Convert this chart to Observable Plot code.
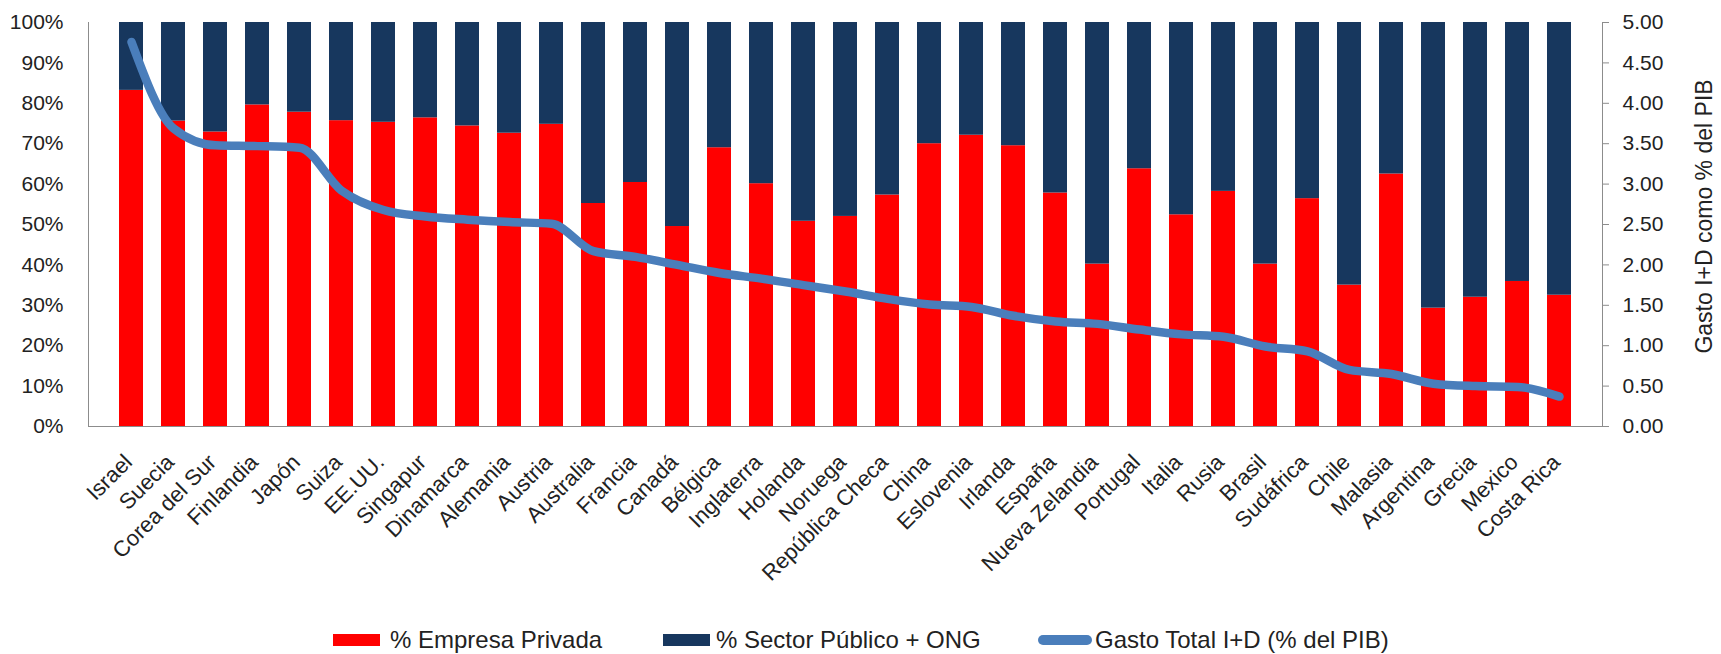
<!DOCTYPE html>
<html><head><meta charset="utf-8">
<script src="https://cdn.jsdelivr.net/npm/d3@7"></script>
<script src="https://cdn.jsdelivr.net/npm/@observablehq/plot@0.6"></script>
<style>
body{margin:0;background:#fff;font-family:"Liberation Sans",Arial,sans-serif;}
#wrap{width:1721px;}
#legend{position:relative;height:28px;width:1721px;font-size:24px;line-height:28px;color:#222;}
.item{position:absolute;top:0;height:28px;white-space:nowrap;}
.sw{position:absolute;}
</style></head><body><div id="wrap"><div id="chart"></div><div id="legend"></div></div>
<script>
const paises = ["Israel","Suecia","Corea del Sur","Finlandia","Japón","Suiza","EE.UU.","Singapur","Dinamarca","Alemania","Austria","Australia","Francia","Canadá","Bélgica","Inglaterra","Holanda","Noruega","República Checa","China","Eslovenia","Irlanda","España","Nueva Zelandia","Portugal","Italia","Rusia","Brasil","Sudáfrica","Chile","Malasia","Argentina","Grecia","Mexico","Costa Rica"];
const privada = [83.2,75.6,72.9,79.6,77.8,75.7,75.3,76.4,74.4,72.6,74.8,55.2,60.4,49.5,69.0,60.1,50.8,52.0,57.3,70.0,72.1,69.5,57.8,40.2,63.8,52.4,58.2,40.2,56.4,35.0,62.5,29.3,32.0,35.9,32.5];
const publico = [16.8,24.4,27.1,20.4,22.2,24.3,24.7,23.6,25.6,27.4,25.2,44.8,39.6,50.5,31.0,39.9,49.2,48.0,42.7,30.0,27.9,30.5,42.2,59.8,36.2,47.6,41.8,59.8,43.6,65.0,37.5,70.7,68.0,64.1,67.5];
const gasto = [4.76,3.69,3.48,3.47,3.45,2.92,2.68,2.60,2.56,2.53,2.51,2.17,2.10,2.00,1.90,1.83,1.75,1.67,1.58,1.51,1.48,1.37,1.30,1.27,1.20,1.14,1.11,0.99,0.93,0.70,0.65,0.53,0.50,0.49,0.37];
const pctTicks = [0,10,20,30,40,50,60,70,80,90,100];
const gastoTicks = [0,0.5,1,1.5,2,2.5,3,3.5,4,4.5,5];
const series = ["% Empresa Privada","% Sector Público + ONG"];
const lineaNombre = "Gasto Total I+D (% del PIB)";
const ejeDerecho = "Gasto I+D como % del PIB";
const colores = ["#ff0000","#17375e"];
const colorLinea = "#4a7ebb";

const rows = [];
paises.forEach((p,i)=>{
  rows.push({pais:p, serie:series[0], valor:privada[i]});
  rows.push({pais:p, serie:series[1], valor:publico[i]});
});
const linea = paises.map((p,i)=>({pais:p, gasto:gasto[i]}));
const k = 100/5; // right axis 0–5 shares the 0–100 scale

const chart = Plot.plot({
  width:1721, height:626, marginTop:22, marginBottom:200, marginLeft:88, marginRight:119,
  style:{fontFamily:"Liberation Sans, Arial, sans-serif", color:"#222", background:"#fff", overflow:"visible"},
  x:{domain:paises, padding:0.42, label:null},
  y:{domain:[0,100], label:null},
  color:{domain:series, range:colores},
  marks:[
    Plot.barY(rows,{x:"pais", y:"valor", fill:"serie", order:series}),
    Plot.ruleY([0],{stroke:"#8c8c8c"}),
    Plot.frame({anchor:"left", stroke:"#8c8c8c"}),
    Plot.frame({anchor:"right", stroke:"#8c8c8c"}),
    Plot.line(linea,{x:"pais", y:d=>d.gasto*k, stroke:colorLinea, strokeWidth:8.5, curve:"monotone-x", strokeLinecap:"round", strokeLinejoin:"round"}),
    Plot.axisY({anchor:"left", ticks:pctTicks, tickFormat:d=>d+"%", tickSize:0, tickPadding:25, fontSize:21, label:null}),
    Plot.axisY({anchor:"right", ticks:gastoTicks.map(v=>v*k), tickFormat:d=>(d/k).toFixed(2), tickSize:6, tickPadding:14, fontSize:21, stroke:"#8c8c8c", fill:"#222", label:null}),
    Plot.text([ejeDerecho], {frameAnchor:"right", textAnchor:"middle", lineAnchor:"middle", rotate:-90, dx:102, dy:-8, fontSize:23, fill:"#222"}),
    Plot.axisX({tickRotate:-45, tickSize:0, tickPadding:32, dx:-3, fontSize:22, label:null})
  ]
});
document.getElementById("chart").append(chart);

const legend = document.getElementById("legend");
const items = [
  {name:series[0], kind:"box", color:colores[0], sx:333, sw:47, tx:390},
  {name:series[1], kind:"box", color:colores[1], sx:663, sw:47, tx:716},
  {name:lineaNombre, kind:"line", color:colorLinea, sx:1038, sw:54, tx:1095}
];
for (const it of items) {
  const s = document.createElement("div");
  s.className = "sw";
  s.style.left = it.sx + "px";
  s.style.width = it.sw + "px";
  s.style.background = it.color;
  if (it.kind === "box") { s.style.top = "8px"; s.style.height = "12px"; }
  else { s.style.top = "9px"; s.style.height = "10px"; s.style.borderRadius = "5px"; }
  legend.append(s);
  const t = document.createElement("div");
  t.className = "item";
  t.style.left = it.tx + "px";
  t.textContent = it.name;
  legend.append(t);
}
</script></body></html>
